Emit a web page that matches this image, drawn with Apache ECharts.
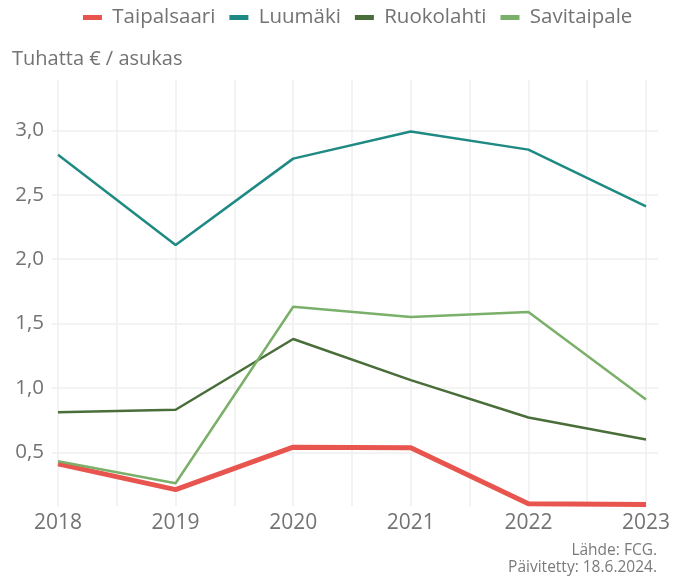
<!DOCTYPE html>
<html>
<head>
<meta charset="utf-8">
<script src="https://cdn.jsdelivr.net/npm/echarts@6/dist/echarts.min.js"></script>
<style>
  html, body { margin: 0; padding: 0; background: #fff; }
  #chart { width: 686px; height: 579px; }
</style>
</head>
<body>
<div id="chart"></div>
<script>
// Vuodet ja kuntakohtaiset arvot (tuhatta € / asukas)
const years = [2018, 2019, 2020, 2021, 2022, 2023];
const taipalsaari = [0.41, 0.21, 0.54, 0.535, 0.10, 0.095];
const luumaki     = [2.81, 2.11, 2.78, 2.99, 2.85, 2.41];
const ruokolahti  = [0.81, 0.83, 1.38, 1.06, 0.77, 0.60];
const savitaipale = [0.43, 0.26, 1.63, 1.55, 1.59, 0.91];
const yTicks = [0.5, 1.0, 1.5, 2.0, 2.5, 3.0];

const seriesDefs = [
  { name: 'Taipalsaari', data: taipalsaari, color: '#e8554e', width: 5 },
  { name: 'Luumäki',     data: luumaki,     color: '#1f8a84', width: 2.5 },
  { name: 'Ruokolahti',  data: ruokolahti,  color: '#4a6e3a', width: 2.5 },
  { name: 'Savitaipale', data: savitaipale, color: '#7ab069', width: 2.5 }
];

const font = '"Open Sans", "Noto Sans", sans-serif';
const textGrey = '#737373';
const gridGrey = '#efefef';

const chart = echarts.init(document.getElementById('chart'), null, { renderer: 'canvas' });

chart.setOption({
  backgroundColor: '#ffffff',
  animation: false,
  textStyle: { fontFamily: font },
  title: {
    text: 'Tuhatta € / asukas',
    left: 12,
    top: 49,
    padding: 0,
    textStyle: { fontFamily: font, fontSize: 20, fontWeight: 'normal', color: textGrey }
  },
  legend: {
    top: 7,
    left: 83,
    icon: 'rect',
    itemWidth: 19,
    itemHeight: 5,
    itemGap: 14,
    padding: 0,
    formatter: name => ' ' + name,
    textStyle: { fontFamily: font, fontSize: 20.5, color: textGrey },
    data: seriesDefs.map(s => s.name)
  },
  graphic: [
    {
      type: 'text', right: 29, top: 543,
      style: { text: 'Lähde: FCG.', fill: '#7a7a7a', font: '15.5px ' + font }
    },
    {
      type: 'text', right: 29, top: 560,
      style: { text: 'Päivitetty: 18.6.2024.', fill: '#7a7a7a', font: '15.5px ' + font }
    }
  ],
  grid: [
    // horizontal grid lines and y labels (slightly wider than the data area)
    { left: 52, right: 28, top: 65.9, bottom: 62.3 },
    // data area with vertical grid lines and year labels
    { left: 58, right: 40, top: 80, bottom: 73 }
  ],
  xAxis: [
    {
      gridIndex: 0, type: 'value', min: 0, max: 1,
      show: false
    },
    {
      gridIndex: 1, type: 'value', min: 2018, max: 2023, interval: 0.5,
      axisLine: { show: false },
      axisTick: { show: false },
      axisLabel: {
        margin: 7,
        fontFamily: font, fontSize: 21, color: textGrey,
        formatter: v => (Math.abs(v % 1) < 1e-6 ? String(Math.round(v)) : '')
      },
      splitLine: { show: true, lineStyle: { color: gridGrey, width: 1.5 } }
    }
  ],
  yAxis: [
    {
      gridIndex: 0, type: 'value', min: 0, max: 3.5, interval: 0.5,
      axisLine: { show: false },
      axisTick: { show: false },
      axisLabel: {
        margin: 8,
        fontFamily: font, fontSize: 20.5, color: textGrey,
        showMinLabel: false, showMaxLabel: false,
        formatter: v => (yTicks.some(t => Math.abs(t - v) < 1e-6) ? v.toFixed(1).replace('.', ',') : '')
      },
      splitLine: {
        show: true, showMinLine: false, showMaxLine: false,
        lineStyle: { color: gridGrey, width: 1.5 }
      }
    },
    {
      gridIndex: 1, type: 'value', min: 0.083, max: 3.3905,
      show: false,
      splitLine: { show: false }
    }
  ],
  series: seriesDefs.map(s => ({
    name: s.name,
    type: 'line',
    xAxisIndex: 1,
    yAxisIndex: 1,
    data: years.map((y, i) => [y, s.data[i]]),
    showSymbol: false,
    symbol: 'none',
    color: s.color,
    lineStyle: { color: s.color, width: s.width },
    emphasis: { disabled: true }
  }))
});
</script>
</body>
</html>
